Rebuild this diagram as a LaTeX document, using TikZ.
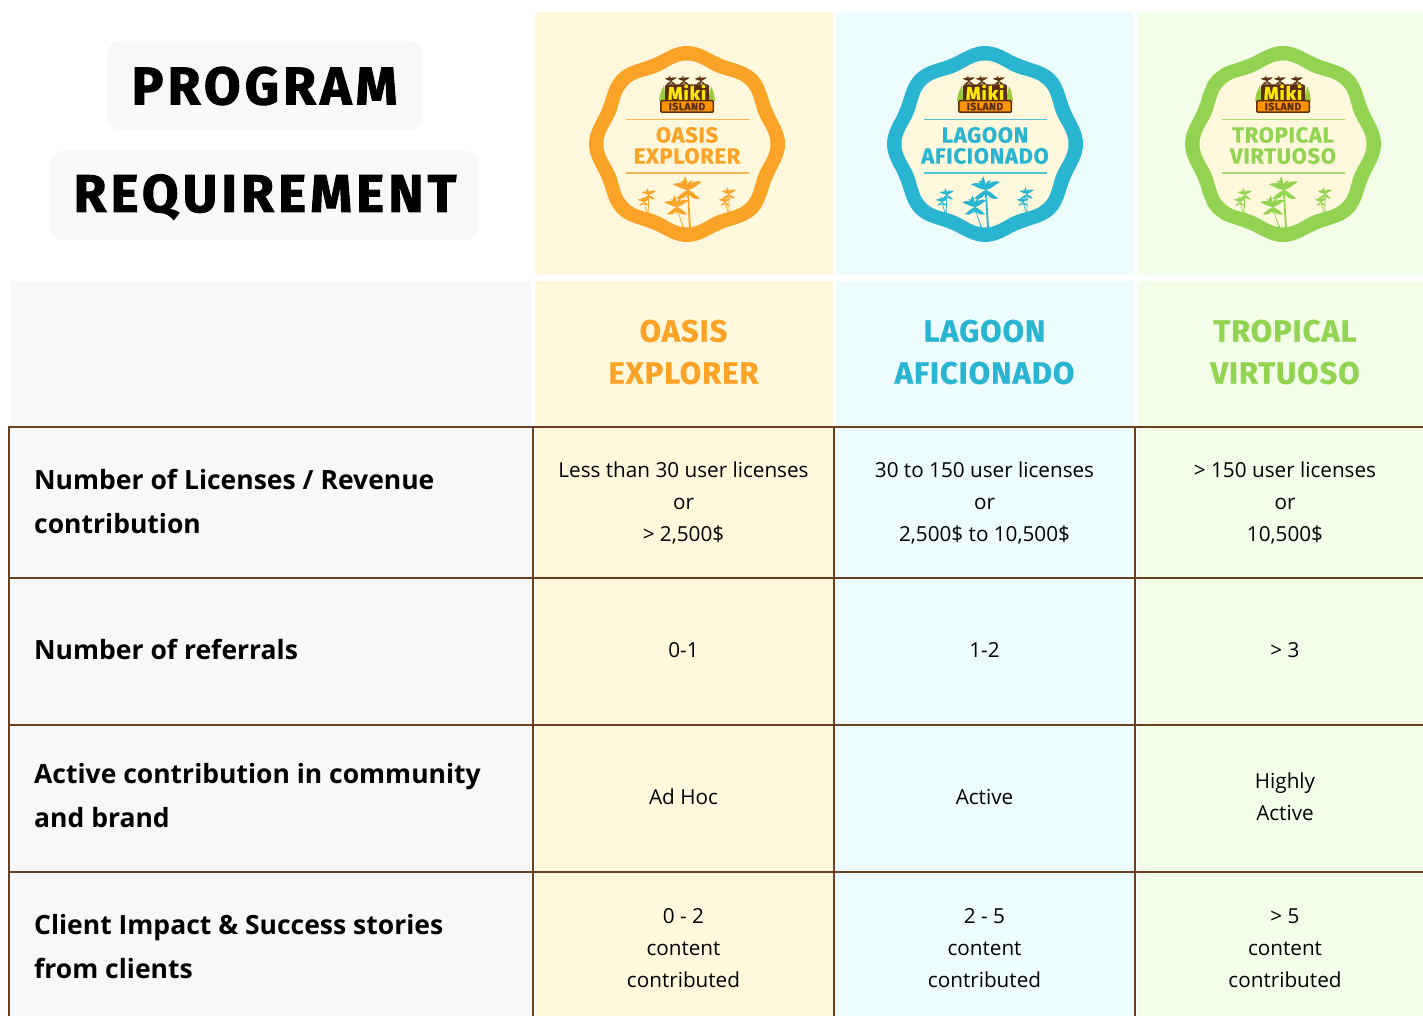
\documentclass[tikz,border=0pt]{standalone}
\usepackage{fontspec}
\setmainfont{Open Sans}
\newfontfamily\titlefont[BoldFeatures={FakeBold=1.8},LetterSpace=8]{Fira Sans}
\newfontfamily\headfont[BoldFeatures={FakeBold=0.6},LetterSpace=3]{Fira Sans}
\newfontfamily\logofont[BoldFeatures={FakeBold=1.0},LetterSpace=4]{Fira Sans}
\definecolor{cellgray}{HTML}{F8F8F8}
\definecolor{boxgray}{HTML}{F8F8F8}
\definecolor{cream}{HTML}{FFF8DC}
\definecolor{icy}{HTML}{ECFCFF}
\definecolor{mint}{HTML}{F2FEE8}
\definecolor{rule}{HTML}{6B4020}
\definecolor{oasis}{HTML}{FBA326}
\definecolor{lagoon}{HTML}{29B5D1}
\definecolor{tropic}{HTML}{92D351}
\definecolor{bark}{HTML}{5A2F10}
\definecolor{leaf}{HTML}{9CCB3B}
\tikzset{
  titlebox/.style={fill=boxgray,rounded corners=14pt},
  titletext/.style={font=\titlefont\bfseries\fontsize{53}{60}\selectfont,text=black,inner sep=0pt},
  headtext/.style={font=\headfont\bfseries\fontsize{31}{42}\selectfont,align=center,inner sep=0pt},
  badgetext/.style={font=\headfont\bfseries\fontsize{22}{21}\selectfont,align=center,inner sep=0pt},
  bodytext/.style={font=\fontsize{20.7}{32}\selectfont,align=center,inner sep=0pt,text=black},
  rowlabel/.style={font=\fontsize{26.5}{44}\selectfont\bfseries,align=left,anchor=west,inner sep=0pt,text=black},
  gridline/.style={draw=rule,line width=2pt},
}
\newcommand{\palmtree}[6]{%
  \fill[#4] (#1-0.9*#3,#2) .. controls (#1+#5*0.3,#2+#6*0.5) .. (#1+#5-1.0*#3,#2+#6)
     -- (#1+#5+1.0*#3,#2+#6) .. controls (#1+#5*0.3+1.2*#3,#2+#6*0.5) .. (#1+0.6*#3,#2) -- cycle;
  \begin{scope}[shift={(#1,#2)},scale=#3]
    \foreach \a/\l/\s in {100/14/1,30/16/1,-35/15/-1,160/16/-1,215/15/1,-100/8/1,65/11/1,130/12/-1}{
      \fill[#4,rotate=\a,yscale=\s] (0,0) .. controls (0.3*\l,-0.36*\l) and (0.7*\l,-0.34*\l) .. (\l,0)
        .. controls (0.7*\l,0.0*\l) and (0.3*\l,0.1*\l) .. (0,0);
    }
  \end{scope}}
\newcommand{\badge}[5]{%
  \fill[#3] plot[domain=0:360,samples=145,smooth] ({#2+(95+3*cos(8*\x))*cos(\x)},{144+(95+3*cos(8*\x))*sin(\x)}) -- cycle;
  \fill[cream] plot[domain=0:360,samples=145,smooth] ({#2+(80.5+3*cos(8*\x))*cos(\x)},{144+(80.5+3*cos(8*\x))*sin(\x)}) -- cycle;
  \palmtree{#2+1}{190}{1}{#3}{2}{39}
  \palmtree{#2-10}{207}{0.85}{#3}{7}{22}
  \palmtree{#2-38}{195}{0.5}{#3}{-1}{18}
  \palmtree{#2-43}{202}{0.42}{#3}{3}{11}
  \palmtree{#2+42}{194}{0.5}{#3}{0}{18}
  \palmtree{#2+38}{202}{0.42}{#3}{3}{10}
  \draw[#3,line width=1.4pt,opacity=.8] (#2-61.5,119.5) -- (#2+61.5,119.5);
  \draw[#3,line width=1.4pt,opacity=.8] (#2-61.5,173) -- (#2+61.5,173);
  \node[badgetext,text=#3] (#1line1) at (#2,135) {#4};
  \node[badgetext,text=#3] (#1line2) at (#2,156) {#5};
  \palmtree{#2-16}{81}{0.42}{bark}{0}{6}
  \palmtree{#2-3}{81}{0.42}{bark}{0}{6}
  \palmtree{#2+14}{81}{0.42}{bark}{-2}{6}
  \fill[leaf] (#2-28,101) .. controls (#2-27,94) .. (#2-23,85) -- (#2-21,101) -- cycle;
  \fill[leaf] (#2+21,101) -- (#2+24,86) .. controls (#2+27,93) .. (#2+28,101) -- cycle;
  \fill[bark,rounded corners=1.5pt] (#2-22,84.5) rectangle (#2+22,101);
  \node[inner sep=0pt,font=\logofont\bfseries\fontsize{19}{19}\selectfont,text=yellow!90!orange] (#1miki) at (#2,92.5) {Miki};
  \fill[bark,rounded corners=1.5pt] (#2-27,100) rectangle (#2+27,113);
  \fill[orange!85!yellow,rounded corners=1pt] (#2-25.5,101.5) rectangle (#2+25.5,111.5);
  \node[inner sep=0pt,font=\logofont\bfseries\fontsize{10.5}{10}\selectfont,text=bark] (#1island) at (#2,106.5) {ISLAND};
}
\begin{document}
\begin{tikzpicture}[x=1pt,y=-1pt]
\useasboundingbox (0,0) rectangle (1423,1016);
\fill[white] (0,0) rectangle (1423,1016);
\fill[cream] (535,12) rectangle (833,275);
\fill[icy] (836,12) rectangle (1134,275);
\fill[mint] (1137,12) rectangle (1423,275);
\fill[cellgray] (11,281) rectangle (532,1016);
\fill[cream] (535,281) rectangle (833,1016);
\fill[icy] (836,281) rectangle (1134,1016);
\fill[mint] (1137,281) rectangle (1423,1016);
\fill[titlebox] (107,41) rectangle (422.5,130.5);
\fill[titlebox] (50,151) rectangle (479,240);
\node[titletext] (title1) at (264.5,86) {PROGRAM};
\node[titletext] (title2) at (265,197) {REQUIREMENT};
\badge{a}{687}{oasis}{OASIS}{EXPLORER}
\badge{b}{985}{lagoon}{LAGOON}{AFICIONADO}
\badge{c}{1283}{tropic}{TROPICAL}{VIRTUOSO}
\node[headtext,text=oasis] (h1) at (683.5,352) {OASIS\\EXPLORER};
\node[headtext,text=lagoon] (h2) at (984.5,352) {LAGOON\\AFICIONADO};
\node[headtext,text=tropic] (h3) at (1285,352) {TROPICAL\\VIRTUOSO};
\foreach \yy in {426.5,578,725,872}{\draw[gridline] (9,\yy) -- (1423,\yy);}
\foreach \xx in {9,533,834,1135}{\draw[gridline] (\xx,426) -- (\xx,1016);}
\node[rowlabel] (r1) at (34,501) {Number of Licenses / Revenue\\contribution};
\node[rowlabel] (r2) at (34,649) {Number of referrals};
\node[rowlabel] (r3) at (34,796) {Active contribution in community\\and brand};
\node[rowlabel] (r4) at (34,947) {Client Impact \& Success stories\\from clients};
\node[bodytext] (c11) at (683.5,502.5) {Less than 30 user licenses\\or\\> 2,500\$};
\node[bodytext] (c12) at (984.5,502.5) {30 to 150 user licenses\\or\\2,500\$ to 10,500\$};
\node[bodytext] (c13) at (1285,502.5) {> 150 user licenses\\or\\10,500\$};
\node[bodytext] (c21) at (683.5,650) {0-1};
\node[bodytext] (c22) at (984.5,650) {1-2};
\node[bodytext] (c23) at (1285,650) {> 3};
\node[bodytext] (c31) at (683.5,797) {Ad Hoc};
\node[bodytext] (c32) at (984.5,797) {Active};
\node[bodytext] (c33) at (1285,797) {Highly\\Active};
\node[bodytext] (c41) at (683.5,948) {0 - 2\\content\\contributed};
\node[bodytext] (c42) at (984.5,948) {2 - 5\\content\\contributed};
\node[bodytext] (c43) at (1285,948) {> 5\\content\\contributed};
\end{tikzpicture}
\end{document}
